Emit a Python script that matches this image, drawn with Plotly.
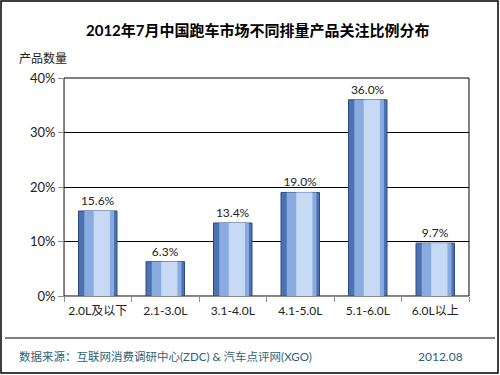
import plotly.graph_objects as go

categories = ["2.0L及以下", "2.1-3.0L", "3.1-4.0L", "4.1-5.0L", "5.1-6.0L", "6.0L以上"]
values = [15.6, 6.3, 13.4, 19.0, 36.0, 9.7]
labels = ["15.6%", "6.3%", "13.4%", "19.0%", "36.0%", "9.7%"]
y_ticks = [0, 10, 20, 30, 40]
y_tick_text = ["0%", "10%", "20%", "30%", "40%"]

W, H = 500, 375
L, R, T, B = 64, 31, 78, 79
pw, ph = W - L - R, H - T - B

def px(x):
    return (x - L) / pw

def py(y):
    return (H - B - y) / ph

FONT = "Lato, 'Noto Sans CJK SC', sans-serif"

fig = go.Figure()
# layered bars to imitate the shaded 3D-look columns
fig.add_trace(go.Bar(x=categories, y=values, width=0.57,
                     marker=dict(color="#4d72b4", line=dict(color="#2c4a80", width=1)),
                     text=labels, textposition="outside", constraintext="none",
                     textfont=dict(family=FONT, size=12, color="#222222"),
                     cliponaxis=False, hoverinfo="skip"))
fig.add_trace(go.Bar(x=categories, y=values, width=0.44, offset=-0.2,
                     marker=dict(color="#8aabe0", line=dict(width=0)),
                     hoverinfo="skip"))
fig.add_trace(go.Bar(x=categories, y=values, width=0.24, offset=-0.06,
                     marker=dict(color="#c6daf5", line=dict(width=0)),
                     hoverinfo="skip"))

fig.update_layout(
    width=W, height=H,
    margin=dict(l=L, r=R, t=T, b=B),
    paper_bgcolor="white", plot_bgcolor="white",
    barmode="overlay", showlegend=False,
    font=dict(family=FONT, size=12, color="#222222"),
)
fig.update_xaxes(
    type="category", showline=True, linecolor="#8c8c8c", linewidth=1,
    ticks="outside", tickson="boundaries", ticklen=5, tickcolor="#8c8c8c",
    ticklabelstandoff=4,
    showgrid=False, tickangle=0, tickfont=dict(family=FONT, size=12, color="#222222"),
)
fig.update_yaxes(
    range=[0, 40], tickvals=y_ticks, ticktext=y_tick_text,
    showline=True, linecolor="#8c8c8c", linewidth=1,
    ticks="outside", ticklen=5, tickcolor="#8c8c8c",
    showgrid=True, gridcolor="black", gridwidth=1, zeroline=False,
    tickfont=dict(family=FONT, size=13, color="#222222"),
)

shapes = [
    dict(type="rect", xref="paper", yref="paper", x0=0, x1=1, y0=0, y1=1,
         line=dict(color="black", width=1), layer="below"),
    dict(type="rect", xref="paper", yref="paper", x0=px(1), x1=px(498), y0=py(1), y1=py(373),
         line=dict(color="black", width=1.5)),
    dict(type="line", xref="paper", yref="paper", x0=px(5), x1=px(495), y0=py(338), y1=py(338),
         line=dict(color="black", width=1)),
]
fig.update_layout(shapes=shapes)

annotations = [
    dict(text="<b>2012年7月中国跑车市场不同排量产品关注比例分布</b>", x=px(258), y=py(30),
         xref="paper", yref="paper", showarrow=False, xanchor="center", yanchor="middle",
         font=dict(family=FONT, size=15, color="black")),
    dict(text="产品数量", x=px(17), y=py(58), xref="paper", yref="paper", showarrow=False,
         xanchor="left", yanchor="middle", font=dict(family=FONT, size=12, color="#222222")),
    dict(text="数据来源：互联网消费调研中心(ZDC) & 汽车点评网(XGO)", x=px(17), y=py(356),
         xref="paper", yref="paper", showarrow=False, xanchor="left", yanchor="middle",
         font=dict(family=FONT, size=11.5, color="#2f6275")),
    dict(text="2012.08", x=px(465), y=py(356), xref="paper", yref="paper", showarrow=False,
         xanchor="right", yanchor="middle", font=dict(family=FONT, size=12, color="#2f6275")),
]
fig.update_layout(annotations=annotations)

fig.write_html("out.html", config={"displayModeBar": False},
               post_script="document.body.style.margin='0';")
